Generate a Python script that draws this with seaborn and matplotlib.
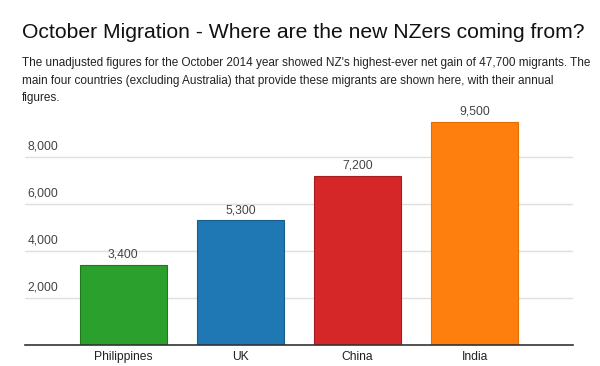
import matplotlib
matplotlib.use("Agg")
import matplotlib.pyplot as plt
import matplotlib.transforms as mtransforms
import seaborn as sns
import pandas as pd

countries = ["Philippines", "UK", "China", "India"]
migrants = [3400, 5300, 7200, 9500]
bar_colors = ["#2ca02c", "#1f77b4", "#d62728", "#ff7f0e"]
edge_colors = ["#1f7a1f", "#175d8c", "#a51d1e", "#e06d00"]
y_ticks = [2000, 4000, 6000, 8000]

title = "October Migration - Where are the new NZers coming from?"
subtitle = ("The unadjusted figures for the October 2014 year showed NZ's highest-ever net gain of 47,700 migrants. The\n"
            "main four countries (excluding Australia) that provide these migrants are shown here, with their annual\n"
            "figures.")

sns.set_theme(style="white")
plt.rcParams['font.family'] = ['Liberation Sans', 'DejaVu Sans']

df = pd.DataFrame({"country": countries, "migrants": migrants})

fig = plt.figure(figsize=(6, 3.66), dpi=100)
ax = fig.add_axes([25/600, 1-345/366, (573-25)/600, (345-110)/366])

sns.barplot(data=df, x="country", y="migrants", hue="country", palette=bar_colors,
            legend=False, width=0.74, ax=ax, saturation=1)
for patch, ec in zip(ax.patches, edge_colors):
    patch.set_edgecolor(ec)
    patch.set_linewidth(0.8)

for cont in ax.containers:
    ax.bar_label(cont, labels=[f"{v:,.0f}" for v in cont.datavalues], padding=3,
                 fontsize=8.7, color="#444444")

ax.set_xlim(-0.84, 3.84)
ax.set_ylim(0, 10000)
ax.set_yticks(y_ticks)
ax.set_yticklabels([f"{v:,}" for v in y_ticks])
ax.yaxis.grid(True, color="#e0e0e0", linewidth=1)
ax.set_axisbelow(True)
for s in ["top", "right", "left"]:
    ax.spines[s].set_visible(False)
ax.spines["bottom"].set_color("#333333")
ax.spines["bottom"].set_linewidth(1.2)
ax.set_xlabel("")
ax.set_ylabel("")
ax.tick_params(axis="y", length=0, pad=-2, labelsize=8.7, labelcolor="#444444")
ax.tick_params(axis="x", length=0, pad=4, labelsize=8.7, labelcolor="#222222")
offset = mtransforms.ScaledTranslation(0, 3/72, fig.dpi_scale_trans)
for lab in ax.get_yticklabels():
    lab.set_horizontalalignment("left")
    lab.set_verticalalignment("bottom")
    lab.set_transform(lab.get_transform() + offset)

fig.text(22/600, 1-33/366, title, fontsize=15.2, color="#111111", va="center", ha="left")
fig.text(22/600, 1-57/366, subtitle, fontsize=8.5, color="#222222", va="top", ha="left",
         linespacing=1.62)

fig.savefig("out.png", dpi=100)
